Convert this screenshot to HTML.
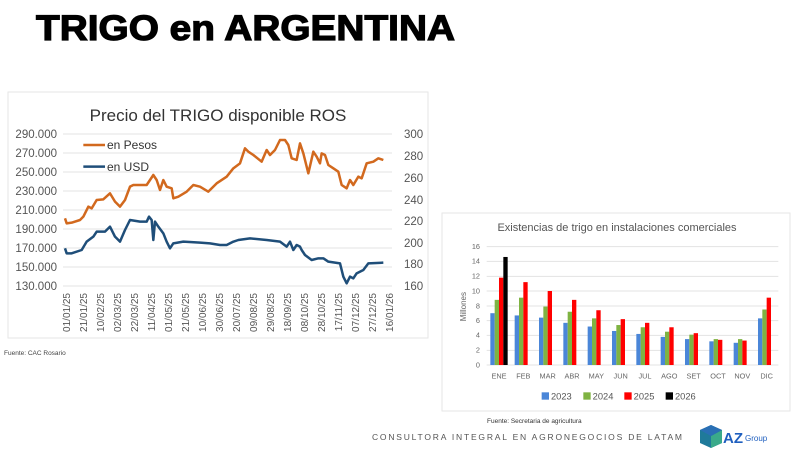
<!DOCTYPE html>
<html><head><meta charset="utf-8"><style>
html,body{margin:0;padding:0;background:#fff;}
svg{display:block;font-family:"Liberation Sans",sans-serif;}
</style></head><body>
<svg width="800" height="450" viewBox="0 0 800 450" xmlns="http://www.w3.org/2000/svg">
<rect width="800" height="450" fill="#fff"/>
<text x="36" y="40" font-size="35" font-weight="bold" fill="#000" textLength="419" lengthAdjust="spacingAndGlyphs" stroke="#000" stroke-width="1.2">TRIGO en ARGENTINA</text>

<!-- left chart -->
<rect x="8" y="92" width="420" height="246" fill="#fff" stroke="#e6e6e6"/>
<text x="218" y="121" font-size="17" fill="#333" text-anchor="middle">Precio del TRIGO disponible ROS</text>
<g stroke="#e3e3e3" stroke-width="1">
<line x1="63" x2="392" y1="134" y2="134"/><line x1="63" x2="392" y1="153" y2="153"/>
<line x1="63" x2="392" y1="172" y2="172"/><line x1="63" x2="392" y1="191" y2="191"/>
<line x1="63" x2="392" y1="210" y2="210"/><line x1="63" x2="392" y1="229" y2="229"/>
<line x1="63" x2="392" y1="248" y2="248"/><line x1="63" x2="392" y1="267" y2="267"/>
<line x1="63" x2="392" y1="286" y2="286"/>
</g>
<g font-size="11.5" fill="#555" text-anchor="end">
<text x="57" y="138">290.000</text><text x="57" y="157">270.000</text><text x="57" y="176">250.000</text>
<text x="57" y="195">230.000</text><text x="57" y="214">210.000</text><text x="57" y="233">190.000</text>
<text x="57" y="252">170.000</text><text x="57" y="271">150.000</text><text x="57" y="290">130.000</text>
</g>
<g font-size="11.5" fill="#555">
<text x="404" y="138">300</text><text x="404" y="160">280</text><text x="404" y="182">260</text>
<text x="404" y="204">240</text><text x="404" y="225">220</text><text x="404" y="247">200</text>
<text x="404" y="268">180</text><text x="404" y="290">160</text>
</g>
<g font-size="10" fill="#555" text-anchor="end">
<text transform="translate(70,293) rotate(-90)">01/01/25</text>
<text transform="translate(87,293) rotate(-90)">21/01/25</text>
<text transform="translate(104,293) rotate(-90)">10/02/25</text>
<text transform="translate(121,293) rotate(-90)">02/03/25</text>
<text transform="translate(138,293) rotate(-90)">22/03/25</text>
<text transform="translate(155,293) rotate(-90)">11/04/25</text>
<text transform="translate(172,293) rotate(-90)">01/05/25</text>
<text transform="translate(189,293) rotate(-90)">21/05/25</text>
<text transform="translate(206,293) rotate(-90)">10/06/25</text>
<text transform="translate(223,293) rotate(-90)">30/06/25</text>
<text transform="translate(240,293) rotate(-90)">20/07/25</text>
<text transform="translate(257,293) rotate(-90)">09/08/25</text>
<text transform="translate(274,293) rotate(-90)">29/08/25</text>
<text transform="translate(291,293) rotate(-90)">18/09/25</text>
<text transform="translate(308,293) rotate(-90)">08/10/25</text>
<text transform="translate(325,293) rotate(-90)">28/10/25</text>
<text transform="translate(342,293) rotate(-90)">17/11/25</text>
<text transform="translate(359,293) rotate(-90)">07/12/25</text>
<text transform="translate(376,293) rotate(-90)">27/12/25</text>
<text transform="translate(393,293) rotate(-90)">16/01/26</text>
</g>
<g transform="translate(0,90) scale(0.33333)" fill="none" stroke-width="7.5" stroke-linejoin="round">
<polyline stroke="#d2691e" points="195,385 200,400 215,398 240,390 250,380 265,350 275,355 290,330 310,328 330,310 345,335 360,350 375,330 390,290 400,285 440,285 460,255 470,270 480,300 490,270 500,290 515,295 520,325 535,320 560,305 580,285 600,290 625,305 650,280 680,260 700,235 720,220 735,175 745,185 760,195 785,215 800,180 810,195 825,180 840,150 855,150 865,165 875,205 890,210 900,160 910,190 925,250 940,185 950,200 960,220 965,190 975,195 985,225 1000,235 1015,245 1025,285 1040,295 1050,270 1060,285 1075,260 1085,265 1100,220 1120,215 1135,205 1150,210"/>
<polyline stroke="#1f4e79" points="195,475 200,490 215,490 245,480 260,455 280,440 290,425 315,425 330,410 345,440 360,455 375,420 390,390 420,395 440,395 447,380 455,390 460,450 465,395 475,410 490,430 500,455 510,475 520,460 550,455 600,458 630,460 660,465 680,465 700,455 715,450 750,445 800,450 840,455 860,470 870,455 880,480 890,465 900,470 905,480 915,495 935,510 955,505 970,505 985,515 1020,520 1030,560 1040,580 1050,560 1060,565 1070,550 1090,540 1105,520 1150,518"/>
<line x1="250" x2="315" y1="165" y2="165" stroke="#d2691e"/>
<line x1="250" x2="315" y1="230" y2="230" stroke="#1f4e79"/>
</g>
<text x="107" y="149" font-size="12" fill="#333">en Pesos</text>
<text x="107" y="171" font-size="12" fill="#333">en USD</text>
<text x="4" y="355" font-size="6.5" fill="#444">Fuente: CAC Rosario</text>

<!-- right chart -->
<rect x="442" y="213" width="348" height="198" fill="#fff" stroke="#e6e6e6"/>
<text x="617" y="231" font-size="11" fill="#555" text-anchor="middle">Existencias de trigo en instalaciones comerciales</text>
<g transform="translate(440,210) scale(0.33333)">
<g stroke="#e3e3e3" stroke-width="3">
<line x1="140" x2="1015" y1="110" y2="110"/><line x1="140" x2="1015" y1="154" y2="154"/>
<line x1="140" x2="1015" y1="199" y2="199"/><line x1="140" x2="1015" y1="243" y2="243"/>
<line x1="140" x2="1015" y1="288" y2="288"/><line x1="140" x2="1015" y1="332" y2="332"/>
<line x1="140" x2="1015" y1="376" y2="376"/><line x1="140" x2="1015" y1="421" y2="421"/>
<line x1="140" x2="1015" y1="465" y2="465"/>
</g>
<g font-size="22" fill="#666" text-anchor="end">
<text x="120" y="117">16</text><text x="120" y="161">14</text><text x="120" y="206">12</text>
<text x="120" y="250">10</text><text x="120" y="295">8</text><text x="120" y="339">6</text>
<text x="120" y="383">4</text><text x="120" y="428">2</text><text x="120" y="472">0</text>
</g>
<text transform="translate(78,290) rotate(-90)" font-size="24" fill="#666" text-anchor="middle">Millones</text>
<g fill="#4a86d8">
<rect x="151" y="309.6" width="13" height="155.4"/><rect x="224" y="316.3" width="13" height="148.7"/>
<rect x="297" y="322.9" width="13" height="142.1"/><rect x="370" y="338.5" width="13" height="126.5"/>
<rect x="443" y="349.6" width="13" height="115.4"/><rect x="516" y="362.9" width="13" height="102.1"/>
<rect x="589" y="371.8" width="13" height="93.2"/><rect x="662" y="380.6" width="13" height="84.4"/>
<rect x="735" y="387.3" width="13" height="77.7"/><rect x="808" y="394" width="13" height="71"/>
<rect x="881" y="398.4" width="13" height="66.6"/><rect x="954" y="325.1" width="13" height="139.9"/>
</g>
<g fill="#7fb342">
<rect x="164" y="269.6" width="13" height="195.4"/><rect x="237" y="263" width="13" height="202"/>
<rect x="310" y="289.6" width="13" height="175.4"/><rect x="383" y="305.2" width="13" height="159.8"/>
<rect x="456" y="325.1" width="13" height="139.9"/><rect x="529" y="345.1" width="13" height="119.9"/>
<rect x="602" y="351.8" width="13" height="113.2"/><rect x="675" y="365.1" width="13" height="99.9"/>
<rect x="748" y="374" width="13" height="91"/><rect x="821" y="387.3" width="13" height="77.7"/>
<rect x="894" y="387.3" width="13" height="77.7"/><rect x="967" y="298.5" width="13" height="166.5"/>
</g>
<g fill="#ff0000">
<rect x="177" y="203" width="13" height="262"/><rect x="250" y="216.4" width="13" height="248.6"/>
<rect x="323" y="243" width="13" height="222"/><rect x="396" y="269.6" width="13" height="195.4"/>
<rect x="469" y="300.7" width="13" height="164.3"/><rect x="542" y="327.4" width="13" height="137.6"/>
<rect x="615" y="338.5" width="13" height="126.5"/><rect x="688" y="351.8" width="13" height="113.2"/>
<rect x="761" y="369.5" width="13" height="95.5"/><rect x="834" y="389.5" width="13" height="75.5"/>
<rect x="907" y="391.7" width="13" height="73.3"/><rect x="980" y="263" width="13" height="202"/>
</g>
<rect x="190" y="140.9" width="13" height="324.1" fill="#000"/>
<g font-size="22" fill="#666" text-anchor="middle">
<text x="177" y="505">ENE</text><text x="250" y="505">FEB</text><text x="323" y="505">MAR</text>
<text x="396" y="505">ABR</text><text x="469" y="505">MAY</text><text x="542" y="505">JUN</text>
<text x="615" y="505">JUL</text><text x="688" y="505">AGO</text><text x="761" y="505">SET</text>
<text x="834" y="505">OCT</text><text x="907" y="505">NOV</text><text x="980" y="505">DIC</text>
</g>
<rect x="305" y="547" width="22" height="22" fill="#4a86d8"/><text x="333" y="569" font-size="28" fill="#555">2023</text>
<rect x="430" y="547" width="22" height="22" fill="#7fb342"/><text x="458" y="569" font-size="28" fill="#555">2024</text>
<rect x="553" y="547" width="22" height="22" fill="#ff0000"/><text x="581" y="569" font-size="28" fill="#555">2025</text>
<rect x="677" y="547" width="22" height="22" fill="#000"/><text x="705" y="569" font-size="28" fill="#555">2026</text>
</g>
<text x="487" y="423" font-size="6.5" fill="#333">Fuente: Secretaria de agricultura</text>
<text x="372" y="440" font-size="8.5" fill="#555" textLength="310" lengthAdjust="spacing">CONSULTORA INTEGRAL EN AGRONEGOCIOS DE LATAM</text>
<polygon points="711,425 722,430 722,443 711,448 700,443 700,430" fill="#1f7a9a"/>
<polygon points="711,436 722,430 722,443 711,448" fill="#3aaa8a"/>
<polygon points="700,430 711,425 722,430 711,436" fill="#2a6fb5"/>
<text x="723" y="443" font-size="15" font-weight="bold" fill="#1f5fbf">AZ</text>
<text x="745" y="441" font-size="8" fill="#1f5fbf">Group</text>
</svg>
</body></html>
